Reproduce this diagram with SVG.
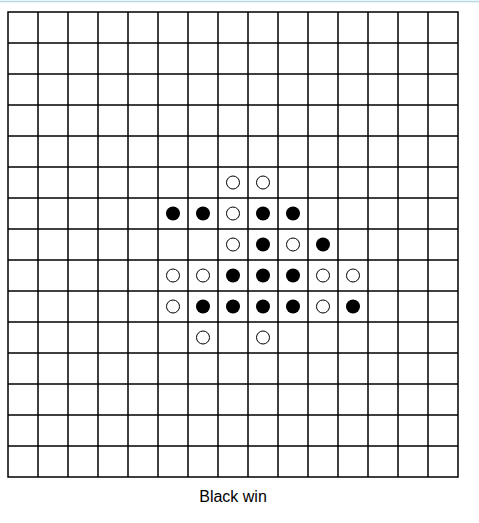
<svg xmlns="http://www.w3.org/2000/svg" width="479" height="523" viewBox="0 0 479 523">
<style>
.grid line{stroke:#000;stroke-width:1.5}
.b{fill:#000}
.w{fill:#fff;stroke:#000;stroke-width:1}
text{font-family:"Liberation Sans",Arial,sans-serif;font-size:16px;fill:#000}
</style>
<rect width="479" height="523" fill="#fff"/>
<line x1="0" y1="1.5" x2="479" y2="1.5" stroke="#b3dbe3" stroke-width="1.5"/>
<g id="board" class="grid">
<rect x="8" y="12" width="450" height="465" fill="#fff" stroke="#000" stroke-width="1.5"/>
<line x1="38" y1="12" x2="38" y2="477"/><line x1="68" y1="12" x2="68" y2="477"/><line x1="98" y1="12" x2="98" y2="477"/><line x1="128" y1="12" x2="128" y2="477"/><line x1="158" y1="12" x2="158" y2="477"/><line x1="188" y1="12" x2="188" y2="477"/><line x1="218" y1="12" x2="218" y2="477"/><line x1="248" y1="12" x2="248" y2="477"/><line x1="278" y1="12" x2="278" y2="477"/><line x1="308" y1="12" x2="308" y2="477"/><line x1="338" y1="12" x2="338" y2="477"/><line x1="368" y1="12" x2="368" y2="477"/><line x1="398" y1="12" x2="398" y2="477"/><line x1="428" y1="12" x2="428" y2="477"/>
<line x1="8" y1="43" x2="458" y2="43"/><line x1="8" y1="74" x2="458" y2="74"/><line x1="8" y1="105" x2="458" y2="105"/><line x1="8" y1="136" x2="458" y2="136"/><line x1="8" y1="167" x2="458" y2="167"/><line x1="8" y1="198" x2="458" y2="198"/><line x1="8" y1="229" x2="458" y2="229"/><line x1="8" y1="260" x2="458" y2="260"/><line x1="8" y1="291" x2="458" y2="291"/><line x1="8" y1="322" x2="458" y2="322"/><line x1="8" y1="353" x2="458" y2="353"/><line x1="8" y1="384" x2="458" y2="384"/><line x1="8" y1="415" x2="458" y2="415"/><line x1="8" y1="446" x2="458" y2="446"/>
</g>
<g id="stones">
<circle class="w" cx="233" cy="182.5" r="6.5"/><circle class="w" cx="263" cy="182.5" r="6.5"/>
<circle class="b" cx="173" cy="213.5" r="7"/><circle class="b" cx="203" cy="213.5" r="7"/><circle class="w" cx="233" cy="213.5" r="6.5"/><circle class="b" cx="263" cy="213.5" r="7"/><circle class="b" cx="293" cy="213.5" r="7"/>
<circle class="w" cx="233" cy="244.5" r="6.5"/><circle class="b" cx="263" cy="244.5" r="7"/><circle class="w" cx="293" cy="244.5" r="6.5"/><circle class="b" cx="323" cy="244.5" r="7"/>
<circle class="w" cx="173" cy="275.5" r="6.5"/><circle class="w" cx="203" cy="275.5" r="6.5"/><circle class="b" cx="233" cy="275.5" r="7"/><circle class="b" cx="263" cy="275.5" r="7"/><circle class="b" cx="293" cy="275.5" r="7"/><circle class="w" cx="323" cy="275.5" r="6.5"/><circle class="w" cx="353" cy="275.5" r="6.5"/>
<circle class="w" cx="173" cy="306.5" r="6.5"/><circle class="b" cx="203" cy="306.5" r="7"/><circle class="b" cx="233" cy="306.5" r="7"/><circle class="b" cx="263" cy="306.5" r="7"/><circle class="b" cx="293" cy="306.5" r="7"/><circle class="w" cx="323" cy="306.5" r="6.5"/><circle class="b" cx="353" cy="306.5" r="7"/>
<circle class="w" cx="203" cy="337.5" r="6.5"/><circle class="w" cx="263" cy="337.5" r="6.5"/>
</g>
<text x="233" y="502" text-anchor="middle">Black win</text>
</svg>
